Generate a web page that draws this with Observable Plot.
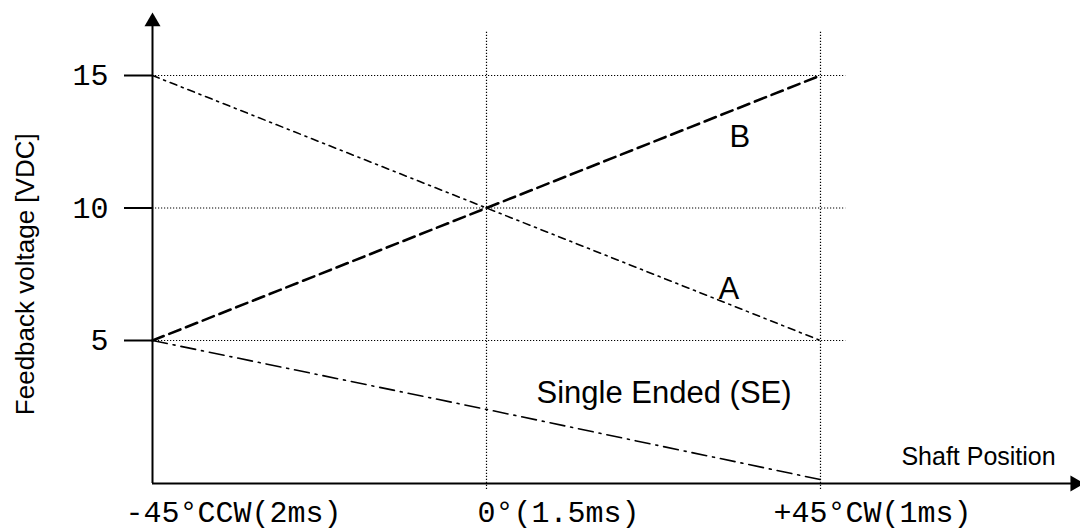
<!DOCTYPE html>
<html>
<head>
<meta charset="utf-8">
<script src="https://cdn.jsdelivr.net/npm/d3@7"></script>
<script src="https://cdn.jsdelivr.net/npm/@observablehq/plot@0.6"></script>
<style>
  html, body { margin: 0; padding: 0; background: #fff; }
  #chart svg { display: block; overflow: visible; }
</style>
</head>
<body>
<div id="chart"></div>
<script>
// ---- data ----
const positions = [-45, 0, 45];
const positionLabels = ["-45°CCW(2ms)", "0°(1.5ms)", "+45°CW(1ms)"];
const seriesA = [15, 10, 5];
const seriesB = [5, 10, 15];
const seriesSE = [5, 2.4, -0.25];
const yTicks = [5, 10, 15];
const gridX = [0, 45];
const lineLabels = ["B", "A", "Single Ended (SE)"];
const xTitle = "Shaft Position";
const yTitle = "Feedback voltage [VDC]";

// ---- layout / style constants ----
const axisBase = -0.4;          // where the x axis line sits (y units)
const monoFont = "'Liberation Mono', 'Courier New', monospace";
const sansFont = "'Liberation Sans', Arial, sans-serif";
const labelDx = [-27, -9, -47]; // x tick label start offsets (px)

const toRows = (vals) => positions.map((p, i) => ({x: p, y: vals[i]}));

const plot = Plot.plot({
  width: 1080,
  height: 529,
  marginLeft: 152,
  marginRight: 260,
  marginTop: 75,
  marginBottom: 56.5,
  x: {domain: [-45, 45], axis: null},
  y: {domain: [0, 15], axis: null},
  style: {background: "white", overflow: "visible"},
  marks: [
    // dotted grid
    Plot.ruleY(yTicks, {x1: -45, x2: 48.4, stroke: "black", strokeWidth: 1.2, strokeDasharray: "1.2,1.8"}),
    Plot.ruleX(gridX, {y1: -0.62, y2: 16.7, stroke: "black", strokeWidth: 1.2, strokeDasharray: "1.2,1.8"}),
    // series lines
    Plot.line(toRows(seriesSE), {x: "x", y: "y", stroke: "black", strokeWidth: 1.6, strokeDasharray: "15,6,2,6"}),
    Plot.line(toRows(seriesA), {x: "x", y: "y", stroke: "black", strokeWidth: 1.6, strokeDasharray: "7,5,2,5"}),
    Plot.line(toRows(seriesB), {x: "x", y: "y", stroke: "black", strokeWidth: 2.6, strokeDasharray: "12,6"}),
    // axes lines
    Plot.ruleX([-45], {y1: axisBase, y2: 16.85, stroke: "black", strokeWidth: 2}),
    Plot.ruleY([axisBase], {x1: -45, x2: 79, stroke: "black", strokeWidth: 2}),
    // arrow heads
    Plot.dot([{x: -45, y: 17.03}], {x: "x", y: "y", symbol: "triangle", r: 5.94, fill: "black"}),
    Plot.dot([{x: 79.3, y: axisBase}], {x: "x", y: "y", symbol: "triangle", r: 5.94, fill: "black", rotate: 90}),
    // y axis ticks and labels
    Plot.axisY(yTicks, {anchor: "left", label: null, tickSize: 28, tickPadding: 16, strokeWidth: 2, fontSize: 30, fontFamily: monoFont, fill: "black", tickFormat: d => String(d)}),
    // x tick labels
    ...positions.map((p, i) => Plot.text([positionLabels[i]], {
      x: () => p, y: () => axisBase, text: d => d, dx: labelDx[i], dy: 38,
      textAnchor: "start", lineAnchor: "bottom", fontSize: 30, fontFamily: monoFont, fill: "black"
    })),
    // line annotations
    Plot.text([lineLabels[0]], {x: () => 32.74, y: () => 12.32, text: d => d, textAnchor: "start", lineAnchor: "bottom", fontSize: 31, fontFamily: sansFont, fill: "black"}),
    Plot.text([lineLabels[1]], {x: () => 31.26, y: () => 6.58, text: d => d, textAnchor: "start", lineAnchor: "bottom", fontSize: 31, fontFamily: sansFont, fill: "black"}),
    Plot.text([lineLabels[2]], {x: () => 6.74, y: () => 2.66, text: d => d, textAnchor: "start", lineAnchor: "bottom", fontSize: 31, fontFamily: sansFont, fill: "black"}),
    // axis titles
    Plot.text([xTitle], {x: () => 55.9, y: () => 0.32, text: d => d, textAnchor: "start", lineAnchor: "bottom", fontSize: 25, fontFamily: sansFont, fill: "black"}),
    Plot.text([yTitle], {frameAnchor: "left", dx: -127, text: d => d, rotate: -90, textAnchor: "middle", lineAnchor: "middle", fontSize: 26, fontFamily: sansFont, fill: "black"})
  ]
});
document.getElementById("chart").appendChild(plot);
</script>
</body>
</html>
